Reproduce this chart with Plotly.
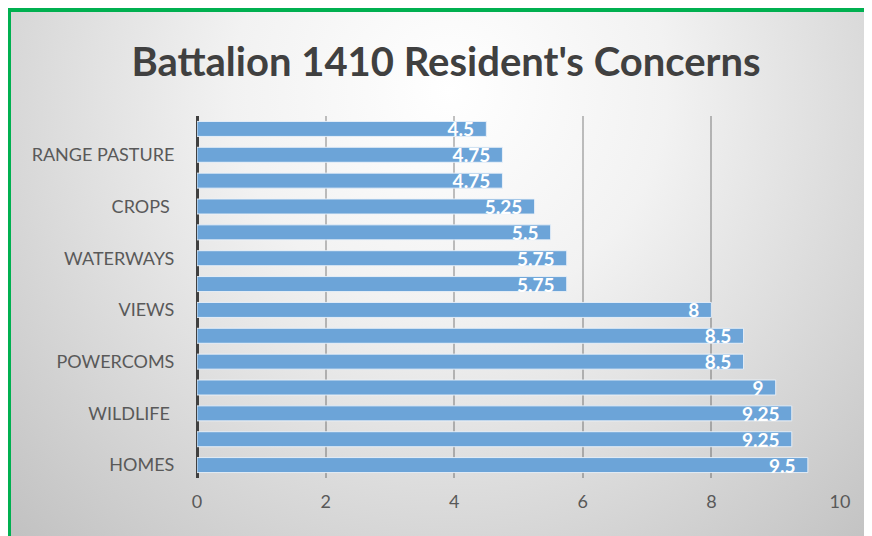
import base64
import plotly.graph_objects as go

# ---- data (bottom to top) ----
labels = ["HOMES", "", "WILDLIFE\u00a0", "", "POWERCOMS", "", "VIEWS", "",
          "WATERWAYS", "", "CROPS\u00a0", "", "RANGE PASTURE", ""]
values = [9.5, 9.25, 9.25, 9, 8.5, 8.5, 8, 5.75, 5.75, 5.5, 5.25, 4.75, 4.75, 4.5]
value_text = ["9.5", "9.25", "9.25", "9", "8.5", "8.5", "8", "5.75", "5.75",
              "5.5", "5.25", "4.75", "4.75", "4.5"]
x_ticks = [0, 2, 4, 6, 8, 10]
title = "Battalion 1410 Resident's Concerns"

W, H = 872, 536
OFF = 8  # page body margin
ml, mt = 197 - OFF, 116 - OFF
pw, ph = 643, 362
mr, mb = W - ml - pw, H - mt - ph

positions = list(range(len(values)))

svg = f'''<svg xmlns="http://www.w3.org/2000/svg" width="{W}" height="{H}" viewBox="0 0 {W} {H}">
<defs><radialGradient id="g" gradientUnits="userSpaceOnUse" cx="{450-OFF}" cy="{90-OFF}" r="620">
<stop offset="0" stop-color="#ffffff"/><stop offset="0.35" stop-color="#f2f2f2"/><stop offset="1" stop-color="#c2c2c2"/></radialGradient></defs>
<rect x="0" y="0" width="{W}" height="{H}" fill="url(#g)"/>
<rect x="0" y="0" width="{11-OFF}" height="{H}" fill="#00b050"/>
<rect x="0" y="0" width="{W}" height="{12-OFF}" fill="#00b050"/>
</svg>'''
src = "data:image/svg+xml;base64," + base64.b64encode(svg.encode()).decode()

fig = go.Figure()
fig.add_trace(go.Bar(
    x=values, y=positions, orientation="h",
    marker=dict(color="#6ca4d8", line=dict(color="rgba(235,242,250,0.9)", width=1)),
    text=value_text, texttemplate="%{text}\u00a0\u00a0",
    textposition="inside", insidetextanchor="end", textangle=0,
    textfont=dict(family="Lato", size=19, color="white", weight="bold"),
    cliponaxis=False, hoverinfo="skip",
))

fig.update_layout(
    width=W, height=H,
    margin=dict(l=ml, r=mr, t=mt, b=mb),
    paper_bgcolor="white", plot_bgcolor="rgba(0,0,0,0)",
    bargap=0.42, showlegend=False,
    uniformtext=dict(minsize=19, mode="show"),
    title=dict(text=title, x=(446 - OFF) / W, xref="container", xanchor="center",
               y=1 - (62 - OFF) / H, yref="container", yanchor="middle",
               font=dict(family="Lato", size=40, color="#404040", weight="bold")),
    xaxis=dict(range=[0, 10], tickvals=x_ticks, showgrid=True, gridcolor="rgba(0,0,0,0.24)",
               gridwidth=2, zeroline=True, zerolinecolor="#404040", zerolinewidth=3,
               tickfont=dict(family="Lato", size=18, color="#595959"),
               ticks="outside", ticklen=7, tickcolor="rgba(0,0,0,0)", showline=False),
    yaxis=dict(range=[-0.5, len(values) - 0.5], tickvals=positions, ticktext=labels,
               showgrid=False, zeroline=False, automargin=False,
               tickfont=dict(family="Lato", size=18, color="#595959"),
               ticks="outside", ticklen=18, tickcolor="rgba(0,0,0,0)"),
    images=[dict(source=src, xref="paper", yref="paper",
                 x=-ml / pw, y=1 + mt / ph, sizex=W / pw, sizey=H / ph,
                 xanchor="left", yanchor="top", sizing="stretch", layer="below")],
)

fig.write_html("out.html")
